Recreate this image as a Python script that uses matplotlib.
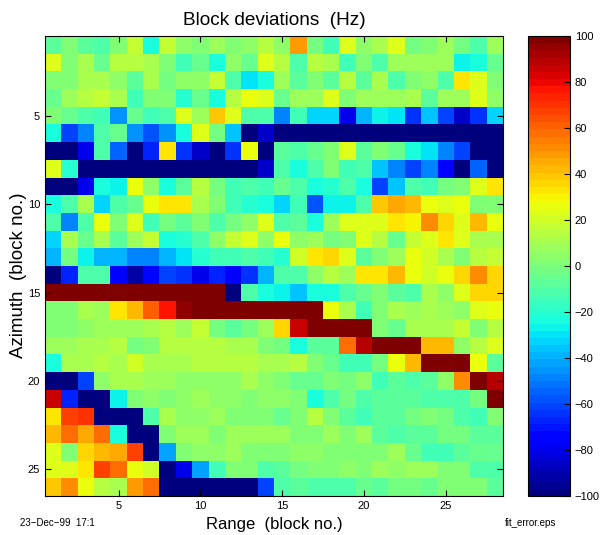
import numpy as np
import matplotlib
matplotlib.use("Agg")
import matplotlib.pyplot as plt

plt.rcParams['font.family'] = ['Liberation Sans', 'DejaVu Sans']

# block deviations (Hz), rows = azimuth block 1..26, cols = range block 1..28
row01 = [-7, 0, -8, -10, 0, 17, -25, 17, 5, 0, 7, 0, 5, 15, 5, 48, -2, -15, 22, 5, 10, 23, -2, 2, 7, -2, -10, 7]
row02 = [22, 0, 10, -5, 15, 15, 12, 0, -15, -5, -25, 5, -4, 22, 14, -10, 14, 10, -15, 0, -12, 7, 7, 7, 7, -28, -22, -5]
row03 = [0, 0, 10, 10, 5, -7, 10, -2, 5, 5, 18, -10, -30, -25, 7, -7, 0, -7, 14, -7, 10, -10, 2, 5, -10, 32, 23, 0]
row04 = [-5, 7, 14, 18, 12, -15, 0, 0, -20, -5, -25, 14, 27, 22, -5, 7, 7, 22, 2, 7, 7, 7, 10, -7, 7, 7, 22, 5]
row05 = [2, -5, -10, -15, -45, -5, -15, -10, 23, 7, 40, 23, -10, -12, -50, -15, -32, -33, -80, -40, -28, -30, -65, -37, -60, -85, -63, -32]
row06 = [-23, -60, -50, -10, -5, -45, -57, -45, -22, 22, -2, -37, -100, -85] + [-100] * 14
row07 = [-100, -100, -80, -12, -55, -100, -68, 32, -63, -85, -100, -63, 25, -100, -7, -12, -5, 0, 22, -7, 0, -5, -25, -30, -47, -60, -100, -100]
row08 = [22, -20] + [-100] * 11 + [-85, -12, -25, -10, 0, -15, -10, -37, -50, -60, -50, -75, -100, -55, -100]
row09 = [-100, -100, -80, -22, -28, 27, 5, -25, -7, 14, -2, -15, -12, -15, -6, -11, -25, -20, -10, -22, -60, -37, -11, -15, -2, 1, 22, 32]
row10 = [-22, -10, 10, -33, -10, -5, 27, 32, 32, 10, 0, -15, -20, -25, -32, -15, -57, -28, -28, -10, 38, 45, 42, 25, 22, 26, 0, 0]
row11 = [-10, -50, -12, 27, 2, 22, -15, -2, -7, 0, -12, -2, 5, 23, -12, -7, -23, 7, 23, 23, 22, 32, 29, 50, 35, 22, 42, 25]
row12 = [-33, 10, -5, 10, -7, 7, 18, -25, -20, -10, 5, 18, 22, 5, 25, 5, 7, -2, 2, 23, 14, -5, 18, 24, 32, 22, 10, 10]
row13 = [-40, -2, -28, -40, -40, -48, -48, -40, -30, -20, -15, -15, -10, -15, -20, 20, 32, 35, 22, -7, 2, 7, 27, 20, 10, 0, 14, 18]
row14 = [-100, -68, -12, -12, -78, -92, -72, -60, -65, -80, -68, -78, -65, -40, -10, -10, 5, 14, 7, 32, 32, 42, 27, 20, 26, 37, 50, 37]
row15 = [100] * 11 + [-100, -10, -25, -28, -37, -25, -25, -10, -5, 2, -7, -12, 10, 5, 23, 37, 37]
row16 = [2, 2, 12, 7, 32, 42, 62, 75, 95] + [100] * 8 + [25, 12, -15, 2, 10, 7, 12, 7, 5, 22, 25]
row17 = [2, 2, 5, 7, 7, 7, 10, 14, 7, 18, -2, -7, -2, 7, 37, 85, 100, 100, 100, 100, 2, -5, 10, 10, 10, 18, 0, 14]
row18 = [7, 7, 10, 10, 14, -2, 2, 14, 14, 14, 14, 10, 10, 0, -2, -22, -7, -7, 58, 90, 100, 100, 100, 42, 42, 5, 14, 22]
row19 = [-22, 10, 10, 14, 10, 20, 10, 10, 10, 14, 14, 14, 14, 10, 10, 14, 2, -5, -15, -15, -2, 25, 42, 100, 100, 100, 25, -7]
row20 = [-100, -100, -60, 5, 10, 10, 7, 7, 5, 5, 5, 5, 10, 5, 0, -5, -5, 0, -2, 5, -15, -7, -12, -7, 5, 50, 100, 90]
row21 = [85, -68, -100, -100, -28, 2, 5, 0, 5, 7, 5, 5, 2, 5, 5, 0, -25, -10, -2, -10, -7, -7, -7, -10, -10, -10, -2, 100]
row22 = [32, 68, 70, -100, -100, -100, -12, 10, 5, 5, 7, 2, 2, 2, -5, 0, 14, 0, -7, -15, -7, -7, -2, 0, -2, -12, -15, 0]
row23 = [42, 58, 45, 58, -25, -100, -100, 0, 7, 7, 2, 7, 7, 7, 7, 2, 0, 7, 2, 8, -7, -10, -7, -7, -2, -2, -7, -7]
row24 = [22, 2, 35, 42, 45, 68, -100, -42, 0, 5, 5, 7, 0, 0, 2, 5, 5, 2, 0, 2, 2, 7, -5, -15, -15, -7, -5, -5]
row25 = [23, 22, 32, 68, 58, 25, 20, -100, -80, -43, -15, 0, 0, -10, -7, -2, 0, 0, 5, 2, 7, 5, 7, 7, 0, 0, -12, -12]
row26 = [40, 50, 25, 14, 12, 47, 58] + [-100] * 6 + [-60, -12, -7, -12, -12, -12, -5, -7, -2, -2, -5, 0, 0, 0, -7]

rows = [row01, row02, row03, row04, row05, row06, row07, row08, row09, row10,
        row11, row12, row13, row14, row15, row16, row17, row18, row19, row20,
        row21, row22, row23, row24, row25, row26]
data = np.array(rows, dtype=float)

xticks = [5, 10, 15, 20, 25]
yticks = [5, 10, 15, 20, 25]
cticks = [-100, -80, -60, -40, -20, 0, 20, 40, 60, 80, 100]

fig = plt.figure(figsize=(6.01, 5.35), dpi=100)
ax = fig.add_axes([45 / 601, 1 - 496 / 535, 458 / 601, 460 / 535])
nr, nc = data.shape
im = ax.imshow(data, cmap=plt.get_cmap('jet', 64), vmin=-100, vmax=100,
               aspect='auto', interpolation='nearest',
               extent=[0.5, nc + 0.5, nr + 0.5, 0.5])
ax.set_xticks(xticks)
ax.set_yticks(yticks)
ax.tick_params(direction='in', top=True, right=True, length=4, labelsize=8)
ax.set_title('Block deviations  (Hz)', fontsize=13.7, pad=8)
ax.set_xlabel('Range  (block no.)', fontsize=12, va='center')
ax.xaxis.set_label_coords(0.5, -0.062)
ax.set_ylabel('Azimuth  (block no.)', fontsize=13.5, va='center')
ax.yaxis.set_label_coords(-0.057, 0.48)

cax = fig.add_axes([528 / 601, 1 - 496 / 535, 42 / 601, 460 / 535])
cb = fig.colorbar(im, cax=cax, ticks=cticks)
cb.ax.tick_params(direction='in', length=4, labelsize=8)
cb.outline.set_linewidth(0.8)

fig.text(20 / 601, 1 - 523 / 535, '23\u2212Dec\u221299  17:1', fontsize=7, va='center')
fig.text(505 / 601, 1 - 523 / 535, 'fit_error.eps', fontsize=7, va='center')

fig.savefig('out.png', dpi=100)
